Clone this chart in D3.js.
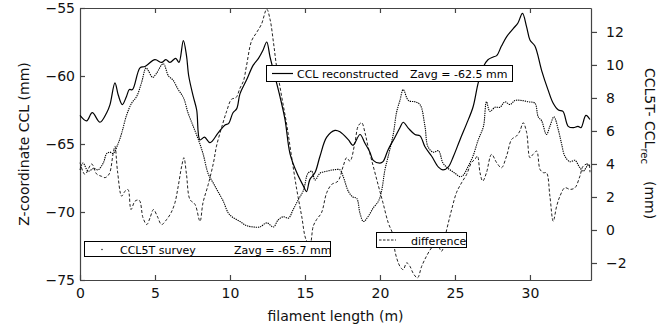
<!DOCTYPE html>
<html>
<head>
<meta charset="utf-8">
<script src="https://cdn.jsdelivr.net/npm/d3@7"></script>
<style>
body { margin: 0; background: #fff; }
svg { font-family: "DejaVu Sans", Verdana, sans-serif; }
</style>
</head>
<body>
<script>
// CCL reconstructed (left axis, mm)
var cclX = [0,0.44,0.82,1.33,1.78,2.0,2.33,2.55,2.82,3.1,3.29,3.5,4.0,4.33,5.0,5.44,5.73,6.0,6.38,6.6,6.89,7.1,7.25,7.55,7.78,8.0,8.3,8.67,9.2,9.67,9.9,10.2,10.45,10.67,11.1,11.55,11.9,12.2,12.45,12.67,13.0,13.33,13.67,14.0,14.45,14.9,15.1,15.33,15.67,16.0,16.45,17.0,17.33,17.9,18.2,18.67,19.0,19.33,19.55,20.0,20.2,20.55,21.0,21.33,21.55,21.9,22.33,22.67,23.0,23.45,23.9,24.2,24.55,24.9,25.33,25.78,26.2,26.55,26.9,27.2,27.55,27.78,28.1,28.45,28.9,29.2,29.5,29.78,30.0,30.33,30.78,31.2,31.55,31.9,32.2,32.55,32.9,33.2,33.4,33.73,34.0];
var cclZ = [-62.9,-63.3,-62.7,-63.4,-62.7,-62.1,-60.5,-61.4,-62.1,-61.5,-61.0,-61.0,-59.4,-59.3,-58.8,-59.0,-58.8,-59.0,-58.7,-59.0,-57.4,-58.5,-60.0,-61.5,-62.5,-64.7,-64.5,-64.9,-64.2,-63.6,-63.5,-62.7,-62.4,-61.3,-60.3,-59.2,-58.7,-58.1,-57.5,-58.6,-60.05,-61.5,-63.2,-65.7,-67.1,-68.1,-68.5,-67.6,-67.1,-65.9,-64.5,-64.0,-64.1,-64.7,-65.1,-64.3,-64.95,-65.6,-66.2,-66.4,-66.3,-65.4,-64.5,-63.8,-63.4,-63.85,-64.3,-64.4,-65.2,-65.9,-66.7,-66.9,-66.7,-65.9,-64.7,-63.5,-62.3,-60.5,-59.3,-58.8,-58.6,-58.5,-57.8,-57.1,-56.5,-56.1,-55.4,-56.4,-57.35,-57.8,-59.6,-61.0,-62.0,-62.5,-62.6,-63.7,-63.8,-63.7,-63.8,-62.9,-63.2];

// CCL5T survey (left axis, mm)
var surveyX = [0,0.2,0.55,0.9,1.2,1.55,1.78,2.0,2.2,2.55,2.78,3.1,3.44,3.78,4.1,4.4,4.55,4.85,5.1,5.55,5.9,6.2,6.55,6.9,7.2,7.55,7.9,8.2,8.55,8.9,9.2,9.55,9.9,10.2,10.67,11.1,11.55,12.0,12.45,12.9,13.2,13.55,13.9,14.2,14.55,14.9,15.2,15.45,15.67,16.0,16.45,16.9,17.33,17.55,17.9,18.2,18.45,18.67,18.9,19.2,19.55,19.9,20.1,20.33,20.55,20.9,21.1,21.33,21.55,21.9,22.33,22.67,23.0,23.2,23.55,23.9,24.2,24.55,25.0,25.33,25.55,25.9,26.2,26.55,26.9,27.1,27.33,27.67,28.0,28.33,28.67,29.0,29.45,29.9,30.33,30.55,30.78,31.1,31.33,31.6,31.9,32.1,32.33,32.67,33.0,33.3,33.55,33.9,34.0];
var surveyZ = [-66.9,-66.4,-67.0,-66.8,-66.9,-66.4,-65.7,-65.6,-65.7,-64.95,-64.2,-62.9,-62.0,-61.5,-60.5,-59.4,-59.6,-60.1,-59.8,-59.1,-60.0,-60.3,-61.0,-61.6,-62.7,-63.7,-64.7,-65.7,-67.2,-67.9,-68.5,-69.2,-70.1,-70.4,-70.7,-71.0,-71.1,-71.1,-70.8,-71.1,-70.6,-70.35,-70.45,-69.85,-69.1,-68.4,-67.15,-67.0,-67.65,-67.15,-67.0,-66.9,-66.9,-67.4,-68.5,-68.9,-69.0,-70.1,-70.7,-70.35,-69.7,-69.2,-68.5,-66.9,-65.9,-64.2,-62.7,-61.8,-61.0,-61.8,-61.9,-62.1,-63.7,-65.2,-65.6,-65.5,-66.4,-66.8,-67.15,-67.4,-67.3,-66.6,-65.9,-64.7,-63.7,-61.9,-62.6,-62.3,-62.3,-61.9,-62.1,-61.8,-61.8,-61.9,-62.0,-63.0,-63.3,-64.3,-63.7,-63.0,-64.0,-64.95,-65.9,-66.3,-66.2,-66.7,-67.0,-66.5,-66.7];

// difference (right axis, mm)
var diffX = [0,0.33,0.78,1.1,1.44,1.67,1.95,2.2,2.33,2.5,2.78,3.0,3.2,3.4,3.67,3.95,4.2,4.45,4.67,4.9,5.15,5.44,5.78,6.07,6.33,6.55,6.78,6.93,7.1,7.33,7.67,8.0,8.2,8.55,8.9,9.1,9.44,9.78,10.1,10.4,10.67,10.9,11.1,11.44,11.78,12.1,12.45,12.67,12.9,13.1,13.44,13.78,14.1,14.45,14.78,15.07,15.33,15.55,15.78,16.1,16.45,16.78,17.2,17.55,17.78,18.0,18.33,18.55,18.78,19.0,19.2,19.55,19.9,20.2,20.55,20.9,21.0,21.33,21.55,21.78,22.0,22.2,22.5,22.78,23.1,23.44,23.78,24.1,24.45,24.78,25.1,25.44,25.78,26.1,26.33,26.5,26.67,26.85,27.1,27.44,27.78,28.1,28.44,28.78,29.1,29.33,29.55,29.78,30.0,30.2,30.45,30.67,30.9,31.1,31.33,31.55,31.78,32.0,32.33,32.67,33.0,33.33,33.55,33.9,34.0];
var diffV = [4.08,3.37,4.0,3.4,3.25,3.17,3.4,4.58,5.08,3.57,2.05,2.35,2.45,1.24,1.75,1.8,0.74,0.33,0.74,1.24,0.84,0.33,0.64,1.04,1.65,2.66,3.87,4.38,3.37,1.85,1.55,0.53,1.65,2.76,4.08,5.08,6.2,7.2,7.92,8.02,8.6,9.03,9.94,11.46,11.97,12.47,13.38,12.77,11.36,9.94,8.12,6.4,4.48,2.46,0.84,-0.58,-0.88,0.23,0.64,1.04,2.26,2.76,2.96,3.87,4.38,4.17,5.29,6.3,6.5,5.9,5.08,3.87,2.66,1.65,0.44,-0.37,-1.29,-2.2,-2.4,-1.99,-2.2,-2.6,-2.9,-2.2,-1.59,-1.08,-0.78,-1.29,0.03,1.24,2.26,2.86,3.37,4.08,4.28,4.48,3.47,2.96,3.47,4.58,4.08,3.77,4.48,5.49,5.69,6.0,6.5,5.9,4.38,4.58,4.78,3.67,3.47,3.47,2.05,0.53,1.44,2.05,2.56,2.46,2.56,3.26,3.87,4.0,3.5];

var leftTicks = [-75,-70,-65,-60,-55];
var rightTicks = [-2,0,2,4,6,8,10,12];
var xTicks = [0,5,10,15,20,25,30];

var W = 664, H = 330;
var m = {left: 80, right: 73, top: 8, bottom: 50};
var pw = W - m.left - m.right, ph = H - m.top - m.bottom;

var svg = d3.select('body').append('svg').attr('width', W).attr('height', H);
var g = svg.append('g').attr('transform', 'translate(' + m.left + ',' + m.top + ')');

var x = d3.scaleLinear().domain([0, 34.07]).range([0, pw]);
var yL = d3.scaleLinear().domain([-75, -55]).range([ph, 0]);
var yR = d3.scaleLinear().domain([-3.03, 13.45]).range([ph, 0]);

// axes
function styleAxis(sel) {
	sel.selectAll('path, line').attr('stroke', '#444').attr('stroke-width', 1.2);
	sel.selectAll('text').attr('fill', '#111').attr('font-size', 14).attr('font-family', '"DejaVu Sans", Verdana, sans-serif');
}
g.append('g').attr('transform', 'translate(0,' + ph + ')')
	.call(d3.axisBottom(x).tickValues(xTicks).tickSizeInner(-5).tickSizeOuter(0).tickPadding(8))
	.call(styleAxis);
g.append('g')
	.call(d3.axisTop(x).tickValues(xTicks.slice(1)).tickSizeInner(-5).tickSizeOuter(0).tickFormat(''))
	.call(styleAxis);
g.append('g')
	.call(d3.axisLeft(yL).tickValues(leftTicks).tickSizeInner(-5).tickSizeOuter(0).tickPadding(5))
	.call(styleAxis);
g.append('g').attr('transform', 'translate(' + pw + ',0)')
	.call(d3.axisRight(yR).tickValues(rightTicks).tickSizeInner(6).tickSizeOuter(0).tickPadding(9).tickFormat(d3.format('d')))
	.call(styleAxis);

// lines
var curve = d3.curveCatmullRom.alpha(0.5);
var lineL = d3.line().x(d => x(d[0])).y(d => yL(d[1])).curve(curve);
var lineR = d3.line().x(d => x(d[0])).y(d => yR(d[1])).curve(curve);

g.append('path')
	.datum(diffX.map((v, i) => [v, diffV[i]]))
	.attr('d', lineR)
	.attr('fill', 'none').attr('stroke', '#222').attr('stroke-width', 1)
	.attr('stroke-dasharray', '3,2');

g.append('path')
	.datum(surveyX.map((v, i) => [v, surveyZ[i]]))
	.attr('d', lineL)
	.attr('fill', 'none').attr('stroke', '#000').attr('stroke-width', 1.1)
	.attr('stroke-dasharray', '1.3,0.9');

g.append('path')
	.datum(cclX.map((v, i) => [v, cclZ[i]]))
	.attr('d', lineL)
	.attr('fill', 'none').attr('stroke', '#000').attr('stroke-width', 1.2);

// legends
var lf = 11;
function legendBox(x0, y0, w, h) {
	svg.append('rect').attr('x', x0).attr('y', y0).attr('width', w).attr('height', h)
		.attr('fill', '#fff').attr('stroke', '#000').attr('stroke-width', 1);
}
function legendText(tx, ty, s) {
	svg.append('text').attr('x', tx).attr('y', ty).attr('font-size', lf).attr('fill', '#000').text(s);
}

legendBox(266.5, 65.5, 246, 16);
svg.append('line').attr('x1', 272).attr('x2', 293).attr('y1', 73.5).attr('y2', 73.5).attr('stroke', '#000').attr('stroke-width', 1.2);
legendText(297, 78, 'CCL reconstructed');
legendText(410, 78, 'Zavg = -62.5 mm');

legendBox(84.5, 241.5, 246, 15);
svg.append('circle').attr('cx', 102).attr('cy', 249.5).attr('r', 0.7).attr('fill', '#000');
legendText(120, 254, 'CCL5T survey');
legendText(234, 254, 'Zavg = -65.7 mm');

legendBox(376.5, 232.5, 90, 15);
svg.append('line').attr('x1', 379).attr('x2', 396).attr('y1', 240).attr('y2', 240).attr('stroke', '#222').attr('stroke-width', 1).attr('stroke-dasharray', '2.5,1.5');
legendText(411, 244.5, 'difference');

// axis titles
svg.append('text')
	.attr('transform', 'translate(' + (m.left + pw / 2) + ',321)')
	.attr('text-anchor', 'middle').attr('font-size', 14).attr('fill', '#111')
	.text('filament length (m)');

svg.append('text')
	.attr('transform', 'translate(29,' + (m.top + ph / 2) + ') rotate(-90)')
	.attr('text-anchor', 'middle').attr('font-size', 14).attr('fill', '#111')
	.text('Z-coordinate CCL (mm)');

var rt = svg.append('text')
	.attr('transform', 'translate(645,68) rotate(90)')
	.attr('font-size', 14).attr('fill', '#111');
rt.append('tspan').text('CCL5T- CCL');
rt.append('tspan').attr('font-size', 10).attr('dy', 4).text('rec');
rt.append('tspan').attr('dx', 17).attr('dy', -4).text('(mm)');
</script>
</body>
</html>
